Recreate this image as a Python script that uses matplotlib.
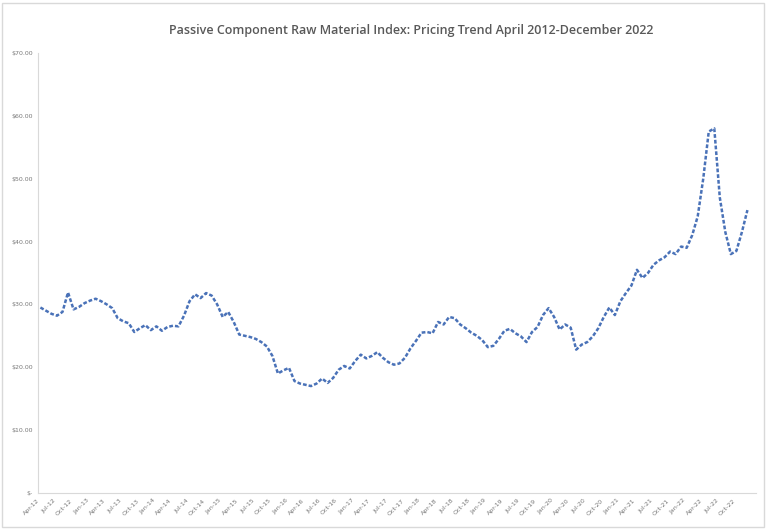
import matplotlib
matplotlib.use("Agg")
import matplotlib.pyplot as plt
import pandas as pd

values = [29.5,29.0,28.5,28.2,28.8,31.9,29.2,29.6,30.2,
          30.6,30.9,30.5,30.0,29.4,27.8,27.3,27.0,25.6,26.2,26.7,25.9,
          26.5,25.8,26.4,26.6,26.5,28.2,30.5,31.6,31.0,31.8,31.4,30.0,
          28.0,28.8,27.2,25.2,25.0,24.8,24.5,24.0,23.3,21.8,19.0,19.5,
          19.9,17.8,17.4,17.2,17.0,17.4,18.2,17.5,18.3,19.6,20.2,19.8,
          21.0,22.0,21.4,21.8,22.4,21.5,20.8,20.4,20.6,21.5,23.0,24.2,
          25.5,25.6,25.4,27.2,26.8,28.0,27.8,26.8,26.2,25.5,25.0,24.3,
          23.2,23.4,24.5,25.8,26.1,25.4,24.9,24.0,25.6,26.4,28.3,29.4,
          28.0,26.0,26.8,26.3,22.8,23.6,24.0,24.9,26.2,28.0,29.5,28.3,
          30.5,31.8,33.0,35.5,34.2,35.0,36.3,37.0,37.5,38.4,38.0,39.2,
          39.0,41.0,44.0,50.0,57.5,58.0,47.0,41.5,38.0,38.5,41.5,45.0]
dates = pd.date_range("2012-04-01", periods=len(values), freq="MS")
tick_idx = list(range(0, len(values), 3))
tick_labels = [dates[i].strftime("%b-%y") for i in tick_idx]
y_ticks = [0, 10, 20, 30, 40, 50, 60, 70]
y_labels = ["$-"] + [f"${v:.2f}" for v in y_ticks[1:]]

fig = plt.figure(figsize=(7.68, 5.30), dpi=100)
ax = fig.add_axes([0.049, 0.07, 0.935, 0.83])
ax.plot(range(len(values)), values, color="#4a72b8", lw=1.8, ls=(0, (1.5, 0.8)))
ax.set_xlim(-0.5, len(values) + 0.5)
ax.set_ylim(0, 70)
ax.set_yticks(y_ticks)
ax.set_yticklabels(y_labels, fontsize=4.5, color="#777777")
ax.set_xticks(tick_idx)
ax.set_xticklabels(tick_labels, rotation=45, fontsize=4.5, color="#777777", ha="right")
ax.tick_params(length=0)
for s in ["top", "right"]:
    ax.spines[s].set_visible(False)
for s in ["left", "bottom"]:
    ax.spines[s].set_color("#d9d9d9")
fig.text(0.535, 0.935, "Passive Component Raw Material Index: Pricing Trend April 2012-December 2022",
         ha="center", fontsize=9, color="#595959", fontweight="semibold", family="Open Sans")
fig.patches.append(plt.Rectangle((0.003, 0.005), 0.992, 0.99, transform=fig.transFigure,
                                 fill=False, ec="#d9d9d9", lw=1))
fig.savefig("out.png", dpi=100)
